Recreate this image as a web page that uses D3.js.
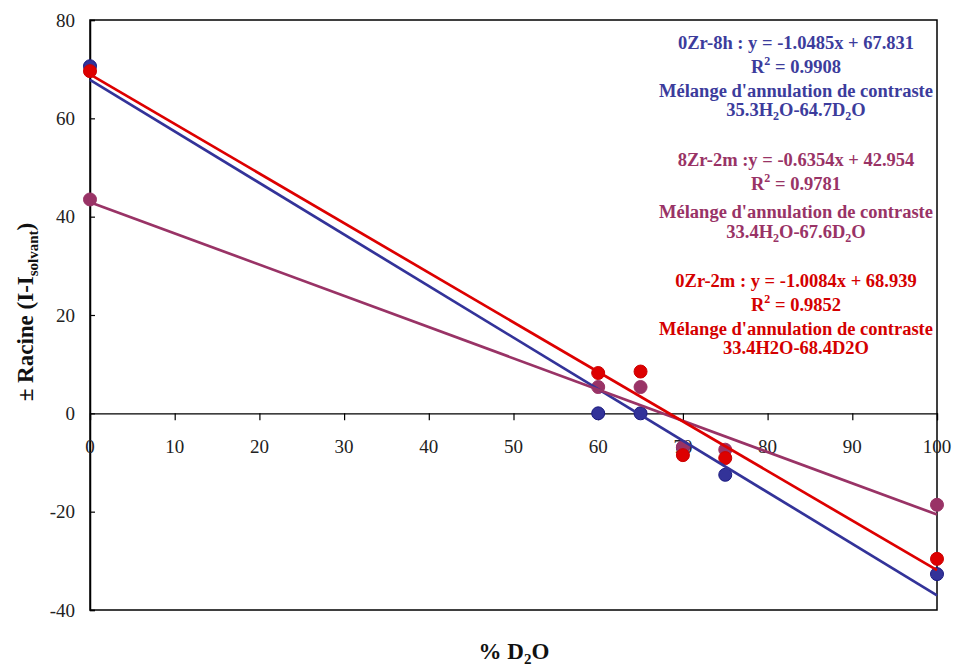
<!DOCTYPE html>
<html><head><meta charset="utf-8">
<script src="https://cdn.jsdelivr.net/npm/d3@7"></script>
<style>body{margin:0;background:#fff}svg{display:block}</style>
</head><body><svg id="c" width="954" height="666" font-family="'Liberation Serif', 'Times New Roman', 'DejaVu Serif', serif"></svg>
<script>
const xValues = [0, 60, 65, 70, 75, 100];
const seriesNames = ["0Zr-8h", "8Zr-2m", "0Zr-2m"];
const blueValues = [70.6, 0, 0, -7.0, -12.5, -32.7];
const purpleValues = [43.5, 5.35, 5.35, -6.85, -7.4, -18.6];
const redValues = [69.6, 8.2, 8.5, -8.5, -9.1, -29.6];
const slopes = [-1.0485, -0.6354, -1.0084];
const intercepts = [67.831, 42.954, 68.939];
const xTicks = [0,10,20,30,40,50,60,70,80,90,100];
const yTicks = [-40,-20,0,20,40,60,80];

const colors = ["#333399", "#993366", "#dd0000"];
const strokes = ["#1a1a80", "#993366", "#cc0000"];
const textColors = ["#3c3c9c", "#993366", "#d40000"];
const allValues = [blueValues, purpleValues, redValues];
const FF = "'Liberation Serif', 'Times New Roman', 'DejaVu Serif', serif";

const svg = d3.select("#c");
const L = 90, R = 937, T = 20, B = 610;
const x = d3.scaleLinear().domain([0,100]).range([L,R]);
const y = d3.scaleLinear().domain([-40,80]).range([B,T]);

svg.append("rect").attr("x",L).attr("y",T).attr("width",R-L).attr("height",B-T)
  .attr("fill","none").attr("stroke","#000").attr("stroke-width",1.5);

const yAxis = svg.append("g").attr("transform",`translate(${L},0)`)
  .call(d3.axisRight(y).tickValues(yTicks).tickSize(5).tickFormat(""));
yAxis.select(".domain").attr("stroke","#000").attr("stroke-width",1.5);
yAxis.selectAll(".tick line").attr("stroke","#000").attr("stroke-width",1.2);
svg.append("g").selectAll("text").data(yTicks).join("text")
  .attr("font-family",FF)
  .attr("x",75).attr("y",d=>y(d)+6.5).attr("text-anchor","end")
  .attr("font-size",19).attr("fill","#222").text(d=>d);

const xAxis = svg.append("g").attr("transform",`translate(0,${y(0)})`)
  .call(d3.axisBottom(x).tickValues(xTicks).tickSize(7).tickFormat(""));
xAxis.select(".domain").attr("stroke","#000").attr("stroke-width",1.2);
xAxis.selectAll(".tick line").attr("stroke","#000").attr("stroke-width",1.2);
svg.append("g").selectAll("text").data(xTicks).join("text")
  .attr("font-family",FF)
  .attr("x",d=>x(d)).attr("y",y(0)+40).attr("text-anchor","middle")
  .attr("font-size",19).attr("fill","#222").text(d=>d);

[0,1,2].forEach(i=>{
  const vals = allValues[i];
  svg.append("g").selectAll("circle").data(xValues).join("circle")
    .attr("cx",d=>x(d)).attr("cy",(d,j)=>y(vals[j])).attr("r",6.5)
    .attr("fill",colors[i]).attr("stroke",strokes[i]).attr("stroke-width",1);
});
[0,1,2].forEach(i=>{
  svg.append("line")
    .attr("x1",x(0)).attr("y1",y(intercepts[i]))
    .attr("x2",x(100)).attr("y2",y(intercepts[i]+slopes[i]*100))
    .attr("stroke",colors[i]).attr("stroke-width",2.7);
});

const ann = [
  {c:0, base:49, eq:"0Zr-8h : y = -1.0485x + 67.831", r2:"0.9908", mix:[["35.3H"],["2","sub"],["O-64.7D"],["2","sub"],["O"]]},
  {c:1, base:166, eq:"8Zr-2m :y = -0.6354x + 42.954", r2:"0.9781", mix:[["33.4H"],["2","sub"],["O-67.6D"],["2","sub"],["O"]]},
  {c:2, base:287, eq:"0Zr-2m : y = -1.0084x + 68.939", r2:"0.9852", mix:[["33.4H2O-68.4D2O"]]}
];
const cx = 796;
ann.forEach(a=>{
  const g = svg.append("g").attr("fill",textColors[a.c]).attr("font-weight","bold")
    .attr("font-family",FF).attr("font-size",18.5).attr("text-anchor","middle");
  g.append("text").attr("x",cx).attr("y",a.base).text(a.eq);
  const r = g.append("text").attr("x",cx).attr("y",a.base+24);
  r.append("tspan").text("R");
  r.append("tspan").attr("dy",-8).attr("font-size",12).text("2");
  r.append("tspan").attr("dy",8).text(" = "+a.r2);
  g.append("text").attr("x",cx).attr("y",a.base+(a.c===1?52:48)).text("Mélange d'annulation de contraste");
  const m = g.append("text").attr("x",cx).attr("y",a.base+(a.c===1?76:71));
  a.mix.forEach(p=>{
    if(p[1]==="sub") m.append("tspan").attr("dy",4).attr("font-size",12).text(p[0]);
    else m.append("tspan").attr("dy", m.selectAll("tspan").size()>0?-4:0).text(p[0]);
  });
});

const yt = svg.append("text").attr("transform","translate(33,312) rotate(-90)")
  .attr("font-family",FF)
  .attr("text-anchor","middle").attr("font-weight","bold").attr("font-size",23).attr("fill","#111");
yt.append("tspan").text("± Racine (I-I");
yt.append("tspan").attr("dy",5).attr("font-size",15).text("solvant");
yt.append("tspan").attr("dy",-5).text(")");

const xt = svg.append("text").attr("x",514).attr("y",659)
  .attr("font-family",FF)
  .attr("text-anchor","middle").attr("font-weight","bold").attr("font-size",23).attr("fill","#111");
xt.append("tspan").text("% D");
xt.append("tspan").attr("dy",5).attr("font-size",15).text("2");
xt.append("tspan").attr("dy",-5).text("O");
</script></body></html>
